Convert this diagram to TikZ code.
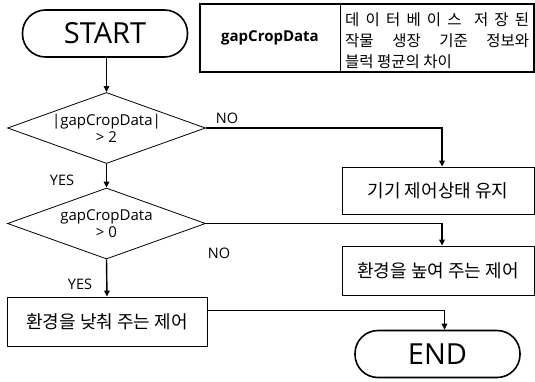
\documentclass[tikz,border=0pt]{standalone}
\usepackage{fontspec}
\setmainfont{Open Sans}
\newfontfamily\kr{Noto Sans CJK KR}
\usetikzlibrary{shapes.geometric,arrows.meta}
\begin{document}
\begin{tikzpicture}[x=1pt,y=-1pt,
  term/.style={draw, line width=1.6pt, rounded corners=23pt, minimum width=165pt, minimum height=47pt, inner sep=0pt, font=\fontsize{29}{30}\selectfont},
  dec/.style={draw, line width=0.8pt, diamond, inner sep=0pt, minimum width=198pt, minimum height=71pt},
  dectext/.style={align=center, font=\fontsize{15}{18}\selectfont, inner sep=0pt},
  proc/.style={draw, line width=0.8pt, inner sep=0pt, font=\kr\fontsize{18}{20}\selectfont},
  lab/.style={font=\fontsize{14.5}{16}\selectfont, inner sep=0pt},
  arr/.style={line width=1.4pt, -{Triangle[length=6pt,width=5.5pt]}},
  ln/.style={line width=1.4pt}]
\useasboundingbox (0,0) rectangle (535,381);
% terminals
\node[term] (start) at (105,33.5) {START};
\node[term] (end) at (437.5,354) {END};
% definition table
\node[draw, line width=2pt, minimum width=334pt, minimum height=68pt, inner sep=0pt] (tab) at (367,38) {};
\draw[line width=0.6pt] (340,5) -- (340,71);
\node[inner sep=0pt, font=\bfseries\fontsize{15}{18}\selectfont] (tkey) at (270,38) {gapCropData};
\node[inner sep=0pt, anchor=west, align=left, font=\kr\fontsize{15.5}{21}\selectfont] (tval) at (345,41)
  {\makebox[184pt][s]{데\hfill 이\hfill 터\hfill 베\hfill 이\hfill 스\hfill\hfill 저\hfill 장\hfill 된}\\
   \makebox[184pt][s]{작물 생장 기준 정보와}\\
   블럭 평균의 차이};
% decisions
\node[dec] (d1) at (106.5,128) {};
\node[dectext] (d1t) at (d1.center) {|gapCropData|\\[-1pt]> 2};
\node[dec] (d2) at (106.5,223.5) {};
\node[dectext] (d2t) at (d2.center) {gapCropData\\[-1pt]> 0};
% process boxes
\node[proc, minimum width=192pt, minimum height=47pt] (b1) at (438,190.5) {기기 제어상태 유지};
\node[proc, minimum width=192pt, minimum height=49pt] (b2) at (438,270.5) {환경을 높여 주는 제어};
\node[proc, minimum width=200pt, minimum height=49pt] (b3) at (107,321.5) {환경을 낮춰 주는 제어};
% labels
\node[lab] (no1) at (227,118) {NO};
\node[lab] (yes1) at (62,180) {YES};
\node[lab] (no2) at (219,253) {NO};
\node[lab] (yes2) at (80,284) {YES};
% connectors
\draw[arr] (start.south -| d1.north) -- (d1.north);
\draw[arr] (d1.east) -| ([xshift=4pt]b1.north);
\draw[arr] (d1.south) -- (d2.north);
\draw[arr] (d2.east) -| ([xshift=4pt]b2.north);
\draw[arr] (d2.south) -- (b3.north);
\draw[arr] ([yshift=11pt]b3.east) -| ([xshift=7pt]end.north);
\end{tikzpicture}
\end{document}
